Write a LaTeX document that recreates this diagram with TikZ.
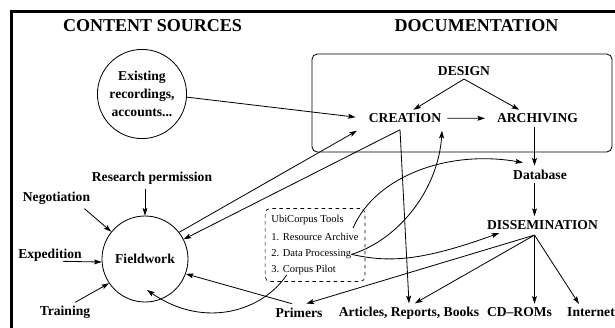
\documentclass[tikz,border=0pt]{standalone}
\usepackage{fontspec}
\setmainfont{Liberation Serif}
\usetikzlibrary{arrows.meta,calc,fit}

\begin{document}
\begin{tikzpicture}[x=0.03cm,y=-0.03cm,line width=0.7pt,
  >={Stealth[length=6.5pt,width=4.2pt,inset=1.3pt]},
  ttl/.style={font=\fontsize{15.4}{18}\selectfont\bfseries,inner sep=0pt,anchor=base},
  lbl/.style={font=\fontsize{11.6}{15.4}\selectfont\bfseries,inner sep=3pt},
  bubble/.style={lbl,circle,draw,minimum size=2.58cm,align=center},
  toolline/.style={font=\fontsize{9}{11}\selectfont,inner sep=0pt,anchor=base west},
  link/.style={->}]

  \useasboundingbox (0,0) rectangle (615,327);

  % --- frame and headings ---
  \draw[line width=2.3pt] (11.3,11.3) rectangle (640,350);
  \node[ttl] (srcttl) at (152.5,31.7) {CONTENT SOURCES};
  \node[ttl] (docttl) at (476.5,31.7) {DOCUMENTATION};

  % --- documentation box ---
  \draw[rounded corners=4.5pt] (312,54) rectangle (612,152);
  \node[lbl,anchor=base] (design)    at (464,75)      {DESIGN};
  \node[lbl,anchor=base] (creation)  at (405,122.7)   {CREATION};
  \node[lbl,anchor=base] (archiving) at (537.5,122.7) {ARCHIVING};

  % --- right column ---
  \node[lbl,anchor=base] (database) at (540,179)   {Database};
  \node[lbl,anchor=base] (dissem)   at (542.5,229) {DISSEMINATION};
  \node[lbl,anchor=base] (primers)  at (299,317)   {Primers};
  \node[lbl,anchor=base] (articles) at (409,316.7) {Articles, Reports, Books};
  \node[lbl,anchor=base] (cdroms)   at (519.5,316.7) {CD--ROMs};
  \node[lbl,anchor=base] (internet) at (591,316.7) {Internet};

  % --- content sources ---
  \node[bubble] (existing)  at (142,94)  {Existing\\recordings,\\accounts...};
  \node[bubble] (fieldwork) at (145,259) {Fieldwork};
  \node[lbl,anchor=base] (permission)  at (152,181.7)  {Research permission};
  \node[lbl,anchor=base] (negotiation) at (56.5,201.7) {Negotiation};
  \node[lbl,anchor=base] (expedition)  at (50,258.3)   {Expedition};
  \node[lbl,anchor=base] (training)    at (65,315.7)   {Training};

  % --- UbiCorpus tools ---
  \foreach \idx/\yb/\txt in {0/222.7/UbiCorpus Tools,1/240.7/1. Resource Archive,
                             2/256.7/2. Data Processing,3/272.3/3. Corpus Pilot}
    \node[toolline] (tool\idx) at (271,\yb) {\txt};
  \node[draw,dashed,line width=0.6pt,rounded corners=4pt,inner xsep=5pt,inner ysep=5.5pt,
        fit=(tool0)(tool1)(tool2)(tool3)] (toolbox) {};

  % --- design, creation, archiving ---
  \draw[link] (design.south) -- (creation.45);
  \draw[link] (design.south) -- (archiving.155);
  \draw[link,shorten <=2pt,shorten >=7pt] (creation.east) -- (archiving.west);

  % --- archive to dissemination ---
  \coordinate (hub) at ($(dissem.south)+(-8,2)$);
  \draw[link] (archiving.south -| hub) -- (database.north -| hub);
  \draw[link] (database.south -| hub) -- (dissem.north -| hub);
  \foreach \dst/\ang in {primers/50,articles/60,internet/145}
    \draw[link] (hub) -- (\dst.\ang);
  \draw[link] (hub) -- (hub |- cdroms.north);

  % --- sources into creation ---
  \draw[link,shorten >=8pt] (existing.-4) -- (creation.west);
  \draw[link] (fieldwork.38) -- ($(creation.south west)+(-8,4)$);
  \coordinate (crfoot) at ($(creation.south)+(-5,3)$);
  \draw[link] (crfoot) -- (fieldwork.27);
  \draw[link] (crfoot) -- (articles.north);

  % --- inputs to fieldwork ---
  \draw[link] (fieldwork.north |- permission.south) -- (fieldwork.north);
  \draw[link] (negotiation.-20) -- (fieldwork.141);
  \draw[link] ($(expedition.base east)+(-23,3)$) -- (fieldwork.184);
  \draw[link] (training.45) -- (fieldwork.214);
  \draw[link] (primers.130) -- (fieldwork.-20);

  % --- tool curves ---
  \draw[link] ($(tool1.north east)+(-6,-5)$) .. controls +(23,-53) and +(-73,-13)
        .. ($(database.north)+(-17,-3)$);
  \draw[link] (tool2.east) .. controls +(46,-14) and +(-4,60)
        .. ($(creation.south east)+(-3,4)$);
  \draw[link] (tool2.east) .. controls +(36,8) and +(-80,29)
        .. ($(dissem.south west)+(16,0)$);
  \draw[link] ($(tool3.south)+(-17,0)$) .. controls +(-23.5,35.4) and +(58,40)
        .. ($(fieldwork.center)+(2,31)$);

\end{tikzpicture}
\end{document}
